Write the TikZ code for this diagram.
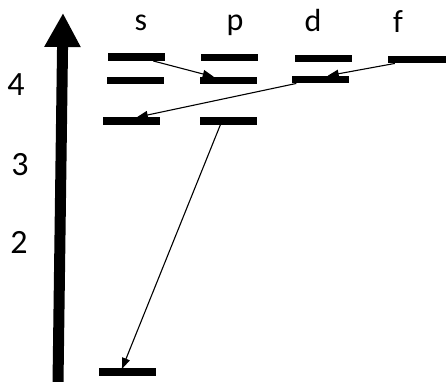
\documentclass[tikz,border=0pt]{standalone}
\usepackage{fontspec}
\setmainfont{Carlito}
\usetikzlibrary{arrows.meta}
\begin{document}
\begin{tikzpicture}[x=1pt,y=1pt,
  level/.style={fill=black, inner sep=0pt, minimum width=57pt, minimum height=7.5pt},
  lbl/.style={font=\fontsize{32}{34}\selectfont, anchor=base},
  num/.style={font=\fontsize{34}{36}\selectfont, anchor=base},
  trans/.style={line width=1.1pt, -{Triangle[length=11pt,width=8pt]}, shorten >=-1pt}]
\useasboundingbox (0,0) rectangle (446,381);
% axis
\coordinate (axb) at (58,-2);
\coordinate (axt) at (63,368);
\draw[line width=11pt, -{Triangle[length=34pt 0,width=34pt 0]}] (axb) -- (axt);
% labels
\node[lbl] (ls) at (141,350) {s};
\node[lbl] (lp) at (235,350) {p};
\node[lbl] (ld) at (313,349) {d};
\node[lbl] (lf) at (398,348) {f};
\node[num] (n4) at (16,286) {4};
\node[num] (n3) at (20,206) {3};
\node[num] (n2) at (19,128) {2};
% levels
\node[level] (s1) at (136.5,324) {};
\node[level] (s2) at (135,300.5) {};
\node[level] (s3) at (131.5,260) {};
\node[level] (p1) at (229,323.5) {};
\node[level] (p2) at (228.5,300.5) {};
\node[level] (p3) at (228,260) {};
\node[level] (d1) at (323.5,322.5) {};
\node[level] (d2) at (320,301.5) {};
\node[level, minimum width=60pt] (f1) at (418,321.5) {};
\node[level] (b1) at (127,9) {};
% transitions
\draw[trans] ([xshift=-12pt]s1.south east) -- ([xshift=13pt]p2.north west);
\draw[trans] ([xshift=7pt]f1.south west) -- ([xshift=-20pt]d2.north east);
\draw[trans] ([xshift=5pt]d2.south west) -- ([xshift=35pt]s3.north west);
\draw[trans] ([xshift=21pt]p3.south west) -- ([xshift=24pt]b1.north west);
\end{tikzpicture}
\end{document}
